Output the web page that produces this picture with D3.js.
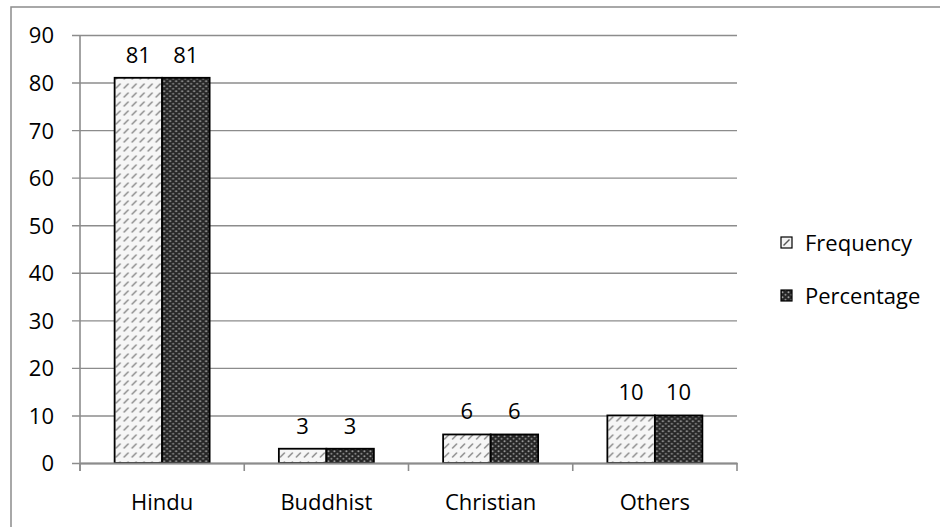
<!DOCTYPE html>
<html>
<head>
<meta charset="utf-8">
<script src="https://cdn.jsdelivr.net/npm/d3@7"></script>
<style>
  html, body { margin: 0; padding: 0; background: #fff; }
  svg { display: block; font-family: "Open Sans", sans-serif; }
</style>
</head>
<body>
<svg id="chart" width="940" height="527"></svg>
<script>
// Religion distribution: frequency and percentage per group
const categories = ["Hindu", "Buddhist", "Christian", "Others"];
const frequency = [81, 3, 6, 10];
const percentage = [81, 3, 6, 10];
const seriesNames = ["Frequency", "Percentage"];
const yTicks = [0, 10, 20, 30, 40, 50, 60, 70, 80, 90];

const svg = d3.select("#chart");
const fontSize = 22;

const plotLeft = 80, plotRight = 737, plotTop = 35, plotBottom = 463;

// Fill patterns for the two series
const defs = svg.append("defs");
const pFreq = defs.append("pattern")
  .attr("id", "pat-freq").attr("patternUnits", "userSpaceOnUse")
  .attr("width", 8).attr("height", 9);
pFreq.append("rect").attr("width", 8).attr("height", 9).attr("fill", "#f6f6f6");
pFreq.append("line").attr("x1", 1.5).attr("y1", 7).attr("x2", 5.5).attr("y2", 3)
  .attr("stroke", "#8f8f8f").attr("stroke-width", 1.6).attr("stroke-linecap", "round");

const pPct = defs.append("pattern")
  .attr("id", "pat-pct").attr("patternUnits", "userSpaceOnUse")
  .attr("width", 6).attr("height", 5);
pPct.append("rect").attr("width", 6).attr("height", 5).attr("fill", "#262626");
pPct.append("circle").attr("cx", 1.5).attr("cy", 1.2).attr("r", 1).attr("fill", "#a0a0a0");
pPct.append("circle").attr("cx", 4.5).attr("cy", 3.7).attr("r", 1).attr("fill", "#8a8a8a");

const fills = ["url(#pat-freq)", "url(#pat-pct)"];

// Outer frame
svg.append("rect")
  .attr("x", 11).attr("y", 7).attr("width", 960).attr("height", 560)
  .attr("fill", "none").attr("stroke", "#8c8c8c").attr("stroke-width", 1.5);

const x = d3.scaleBand().domain(categories).range([plotLeft, plotRight])
  .paddingInner(0.4216).paddingOuter(0.2108);
const x1 = d3.scaleBand().domain(seriesNames).range([0, x.bandwidth()]);
const y = d3.scaleLinear().domain([0, 90]).range([plotBottom, plotTop]);

// Gridlines with left tick stubs
const yAxis = d3.axisLeft(y).tickValues(yTicks)
  .tickSize(-(plotRight - plotLeft)).tickSizeOuter(0).tickPadding(0).tickFormat(d => d);
const gy = svg.append("g").attr("transform", `translate(${plotLeft},0)`).call(yAxis);
gy.select(".domain").remove();
gy.selectAll(".tick line")
  .attr("x1", -8)
  .attr("stroke", "#8c8c8c").attr("stroke-width", 1.4);
gy.selectAll(".tick text")
  .attr("x", -26).attr("dy", "0.36em")
  .attr("font-size", fontSize).attr("font-family", "Open Sans, sans-serif")
  .attr("fill", "#000");

// Vertical axis line
svg.append("line")
  .attr("x1", plotLeft).attr("x2", plotLeft).attr("y1", plotTop).attr("y2", plotBottom + 8)
  .attr("stroke", "#8c8c8c").attr("stroke-width", 1.6);

// Bars
const data = categories.map((c, i) => ({ cat: c, vals: [frequency[i], percentage[i]] }));
const groups = svg.append("g").selectAll("g").data(data).join("g")
  .attr("transform", d => `translate(${x(d.cat)},0)`);
groups.selectAll("rect")
  .data(d => d.vals.map((v, j) => ({ v, s: seriesNames[j], j })))
  .join("rect")
  .attr("x", d => x1(d.s))
  .attr("y", d => y(d.v))
  .attr("width", x1.bandwidth())
  .attr("height", d => y(0) - y(d.v))
  .attr("fill", d => fills[d.j])
  .attr("stroke", "#000").attr("stroke-width", 1.8);

// Value labels
groups.selectAll("text")
  .data(d => d.vals.map((v, j) => ({ v, s: seriesNames[j] })))
  .join("text")
  .attr("x", d => x1(d.s) + x1.bandwidth() / 2)
  .attr("y", d => y(d.v) - 15)
  .attr("text-anchor", "middle")
  .attr("font-size", fontSize).attr("fill", "#000")
  .text(d => d.v);

// Horizontal category axis
const xAxis = d3.axisBottom(x).tickSize(0).tickSizeOuter(0).tickPadding(0);
const gx = svg.append("g").attr("transform", `translate(0,${plotBottom})`).call(xAxis);
gx.select(".domain").attr("stroke", "#8c8c8c").attr("stroke-width", 2.2);
gx.selectAll(".tick text")
  .attr("y", 47).attr("dy", 0)
  .attr("font-size", fontSize).attr("font-family", "Open Sans, sans-serif")
  .attr("fill", "#000");

// Category boundary ticks
const bounds = categories.map(c => x(c) - x.step() * x.paddingOuter()).concat([plotRight]);
svg.append("g").selectAll("line").data(bounds).join("line")
  .attr("x1", d => d).attr("x2", d => d)
  .attr("y1", plotBottom).attr("y2", plotBottom + 8)
  .attr("stroke", "#8c8c8c").attr("stroke-width", 1.6);

// Legend
const legend = svg.append("g");
const legY = [243, 296];
seriesNames.forEach((name, i) => {
  const g = legend.append("g").attr("transform", `translate(781,${legY[i]})`);
  g.append("rect").attr("x", 0).attr("y", -6).attr("width", 11).attr("height", 11)
    .attr("fill", i === 0 ? "#f2f2f2" : "url(#pat-pct)")
    .attr("stroke", "#000").attr("stroke-width", 1.2);
  if (i === 0) {
    g.append("line").attr("x1", 2.5).attr("y1", 2.5).attr("x2", 8.5).attr("y2", -3.5)
      .attr("stroke", "#555").attr("stroke-width", 1.4);
  }
  g.append("text").attr("x", 24).attr("y", 0).attr("dy", "0.36em")
    .attr("font-size", fontSize).attr("fill", "#000").text(name);
});
</script>
</body>
</html>
